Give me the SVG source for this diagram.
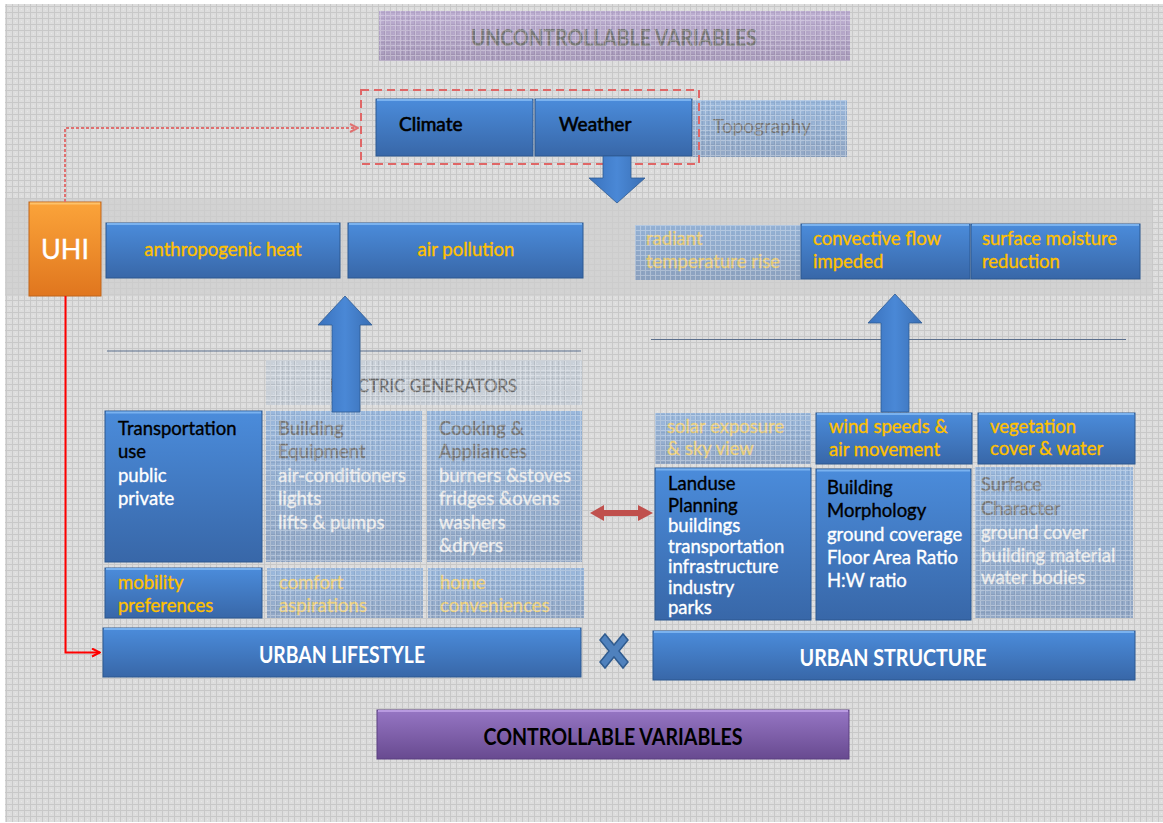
<svg xmlns="http://www.w3.org/2000/svg" width="1163" height="823" viewBox="0 0 1163 823">
  <defs>
    <pattern id="bgGrid" width="6" height="6" patternUnits="userSpaceOnUse">
      <rect width="6" height="6" fill="#dddddd"/>
      <path d="M0 0.5H6M0.5 0V6" stroke="#c8c8c8" stroke-width="1"/>
      <rect x="3" y="3" width="1" height="1" fill="#e8e8e8"/>
    </pattern>
    <pattern id="fadeGrid" width="5" height="5" patternUnits="userSpaceOnUse">
      <path d="M0 0.5H5M0.5 0V5" stroke="#ffffff" stroke-width="1" opacity="0.3"/>
    </pattern>
    <linearGradient id="gBlue" x1="0" y1="0" x2="0" y2="1">
      <stop offset="0" stop-color="#4b8cdb"/>
      <stop offset="1" stop-color="#3867a8"/>
    </linearGradient>
    <linearGradient id="gOrange" x1="0" y1="0" x2="0" y2="1">
      <stop offset="0" stop-color="#fba43a"/>
      <stop offset="1" stop-color="#e0761e"/>
    </linearGradient>
    <linearGradient id="gPurple" x1="0" y1="0" x2="0" y2="1">
      <stop offset="0" stop-color="#9676c4"/>
      <stop offset="1" stop-color="#684a90"/>
    </linearGradient>
    <linearGradient id="gArrow" x1="0" y1="0" x2="1" y2="0">
      <stop offset="0" stop-color="#3a72bd"/>
      <stop offset="0.5" stop-color="#4a88d6"/>
      <stop offset="1" stop-color="#3a6fb4"/>
    </linearGradient>
    <marker id="arrSolid" viewBox="0 0 10 10" refX="9" refY="5" markerWidth="5" markerHeight="5" orient="auto" markerUnits="strokeWidth">
      <path d="M1 1L9 5L1 9" fill="none" stroke="#ff0000" stroke-width="2"/>
    </marker>
    <marker id="arrDash" viewBox="0 0 10 10" refX="9" refY="5" markerWidth="5" markerHeight="5" orient="auto" markerUnits="strokeWidth">
      <path d="M1 1L9 5L1 9" fill="none" stroke="#e07070" stroke-width="2"/>
    </marker>
    <style>
      text { font-family: Lato, "Open Sans", "Liberation Sans", sans-serif; }
      .blue { fill: url(#gBlue); stroke: #2d5890; stroke-width: 1; }
      .hi { stroke: #7ab2ef; stroke-width: 2; }
      .fade { opacity: 0.45; }
      .y { fill: #ffc000; stroke: #ffc000; stroke-width: 0.35; font-size: 18.5px; }
      .w { fill: #ffffff; stroke: #ffffff; stroke-width: 0.35; font-size: 18.5px; }
      .k { fill: #000000; stroke: #000000; stroke-width: 0.35; font-size: 18.5px; }
      .cap { fill: #ffffff; font-size: 22px; font-weight: 700; }
      .mid { text-anchor: middle; }
    </style>
  </defs>

  <!-- page background -->
  <rect width="1163" height="823" fill="#ffffff"/>
  <rect x="5" y="4" width="1158" height="818" fill="url(#bgGrid)"/>

  <!-- effects band -->
  <rect x="5" y="199" width="1147" height="97" fill="#cdcdcd" opacity="0.72"/>

  <!-- uncontrollable variables header -->
  <g id="uncontrollable">
    <g opacity="0.45">
      <rect x="379" y="11" width="471" height="50" fill="url(#gPurple)"/>
      <text x="614" y="46" class="mid" font-size="22" font-weight="700" fill="#000" textLength="286" lengthAdjust="spacingAndGlyphs">UNCONTROLLABLE VARIABLES</text>
    </g>
    <rect x="379" y="11" width="471" height="50" fill="url(#fadeGrid)"/>
  </g>

  <!-- climate group -->
  <g id="climate">
    <rect x="376" y="99" width="157" height="57" class="blue"/>
    <line x1="377" y1="100" x2="532" y2="100" class="hi"/>
    <text x="399" y="131" font-size="19" fill="#000" stroke="#000" stroke-width="0.6">Climate</text>
  </g>
  <g id="weather">
    <rect x="535" y="99" width="157" height="57" class="blue"/>
    <line x1="536" y1="100" x2="691" y2="100" class="hi"/>
    <text x="559" y="131" font-size="19" fill="#000" stroke="#000" stroke-width="0.6">Weather</text>
  </g>
  <g id="topography">
    <g class="fade">
      <rect x="693" y="100" width="154" height="57" fill="url(#gBlue)"/>
      <text x="713" y="133" font-size="19" fill="#000">Topography</text>
    </g>
    <rect x="693" y="100" width="154" height="57" fill="url(#fadeGrid)"/>
  </g>
  <rect id="climate-frame" x="361" y="90" width="338" height="74" fill="none" stroke="#e06666" stroke-width="2" stroke-dasharray="8 5"/>

  <!-- UHI -->
  <g id="uhi">
    <rect x="29" y="202" width="72" height="94" fill="url(#gOrange)" stroke="#c0651a" stroke-width="1"/>
    <line x1="30" y1="203.5" x2="100" y2="203.5" stroke="#fdc26a" stroke-width="2"/>
    <text x="65" y="259" class="mid" font-size="27" fill="#ffffff" stroke="#ffffff" stroke-width="0.4">UHI</text>
  </g>

  <!-- effects -->
  <g id="anthropogenic-heat">
    <rect x="106" y="223" width="234" height="55" class="blue"/>
    <line x1="107" y1="224" x2="339" y2="224" class="hi"/>
    <text x="223" y="256" class="y mid">anthropogenic heat</text>
  </g>
  <g id="air-pollution">
    <rect x="348" y="223" width="235" height="55" class="blue"/>
    <line x1="349" y1="224" x2="582" y2="224" class="hi"/>
    <text x="466" y="256" class="y mid">air pollution</text>
  </g>
  <g id="radiant-temperature">
    <g class="fade">
      <rect x="635" y="225" width="166" height="55" fill="url(#gBlue)"/>
      <text x="646" y="245" class="y">radiant</text>
      <text x="646" y="268" class="y">temperature rise</text>
    </g>
    <rect x="635" y="225" width="166" height="55" fill="url(#fadeGrid)"/>
  </g>
  <g id="convective-flow">
    <rect x="801" y="224" width="169" height="55" class="blue"/>
    <line x1="802" y1="225" x2="969" y2="225" class="hi"/>
    <text x="813" y="245" class="y">convective flow</text>
    <text x="813" y="268" class="y">impeded</text>
  </g>
  <g id="surface-moisture">
    <rect x="971" y="224" width="169" height="55" class="blue"/>
    <line x1="972" y1="225" x2="1139" y2="225" class="hi"/>
    <text x="982" y="245" class="y">surface moisture</text>
    <text x="982" y="268" class="y">reduction</text>
  </g>

  <!-- divider lines -->
  <line x1="107" y1="351" x2="581" y2="351" stroke="#5b6f8c" stroke-width="1"/>
  <line x1="651" y1="339.5" x2="1126" y2="339.5" stroke="#5b6f8c" stroke-width="1"/>

  <!-- electric generators -->
  <g id="electric-generators">
    <rect x="266" y="360" width="316" height="45" fill="#3a70b8" opacity="0.12"/>
    <text x="330" y="392" font-size="18" fill="#666666" stroke="#666666" stroke-width="0.3" textLength="187" lengthAdjust="spacingAndGlyphs">ELECTRIC GENERATORS</text>
    <rect x="266" y="360" width="316" height="45" fill="url(#fadeGrid)"/>
  </g>

  <!-- urban lifestyle factors -->
  <g id="transportation">
    <rect x="105" y="411" width="157" height="151" class="blue"/>
    <line x1="106" y1="412.5" x2="261" y2="412.5" class="hi"/>
    <text x="118" y="435" class="k">Transportation</text>
    <text x="118" y="458" class="k">use</text>
    <text x="118" y="482" class="w">public</text>
    <text x="118" y="505" class="w">private</text>
  </g>
  <g id="building-equipment">
    <g class="fade">
      <rect x="266" y="411" width="156" height="151" fill="url(#gBlue)"/>
      <text x="278" y="435" class="k">Building</text>
      <text x="278" y="458" class="k">Equipment</text>
      <text x="278" y="482" class="w">air-conditioners</text>
      <text x="278" y="505" class="w">lights</text>
      <text x="278" y="529" class="w">lifts &amp; pumps</text>
    </g>
    <rect x="266" y="411" width="156" height="151" fill="url(#fadeGrid)"/>
  </g>
  <g id="cooking-appliances">
    <g class="fade">
      <rect x="427" y="411" width="155" height="151" fill="url(#gBlue)"/>
      <text x="439" y="435" class="k">Cooking &amp;</text>
      <text x="439" y="458" class="k">Appliances</text>
      <text x="439" y="482" class="w">burners &amp;stoves</text>
      <text x="439" y="505" class="w">fridges &amp;ovens</text>
      <text x="439" y="529" class="w">washers</text>
      <text x="439" y="552" class="w">&amp;dryers</text>
    </g>
    <rect x="427" y="411" width="155" height="151" fill="url(#fadeGrid)"/>
  </g>
  <g id="mobility-preferences">
    <rect x="105" y="568" width="157" height="50" class="blue"/>
    <line x1="106" y1="569" x2="261" y2="569" class="hi"/>
    <text x="118" y="589" class="y">mobility</text>
    <text x="118" y="612" class="y">preferences</text>
  </g>
  <g id="comfort-aspirations">
    <g class="fade">
      <rect x="267" y="568" width="156" height="50" fill="url(#gBlue)"/>
      <text x="279" y="589" class="y">comfort</text>
      <text x="279" y="612" class="y">aspirations</text>
    </g>
    <rect x="267" y="568" width="156" height="50" fill="url(#fadeGrid)"/>
  </g>
  <g id="home-conveniences">
    <g class="fade">
      <rect x="428" y="568" width="156" height="50" fill="url(#gBlue)"/>
      <text x="440" y="589" class="y">home</text>
      <text x="440" y="612" class="y">conveniences</text>
    </g>
    <rect x="428" y="568" width="156" height="50" fill="url(#fadeGrid)"/>
  </g>

  <!-- urban structure factors -->
  <g id="solar-exposure">
    <g class="fade">
      <rect x="655" y="413" width="156" height="51" fill="url(#gBlue)"/>
      <text x="667" y="433" class="y">solar exposure</text>
      <text x="667" y="455" class="y">&amp; sky view</text>
    </g>
    <rect x="655" y="413" width="156" height="51" fill="url(#fadeGrid)"/>
  </g>
  <g id="wind-speeds">
    <rect x="816" y="413" width="156" height="51" class="blue"/>
    <line x1="817" y1="414" x2="971" y2="414" class="hi"/>
    <text x="829" y="433" class="y">wind speeds &amp;</text>
    <text x="829" y="456" class="y">air movement</text>
  </g>
  <g id="vegetation">
    <rect x="978" y="413" width="157" height="51" class="blue"/>
    <line x1="979" y1="414" x2="1134" y2="414" class="hi"/>
    <text x="990" y="433" class="y">vegetation</text>
    <text x="990" y="455" class="y">cover &amp; water</text>
  </g>
  <g id="landuse-planning">
    <rect x="655" y="468" width="156" height="152" class="blue"/>
    <line x1="656" y1="469.5" x2="810" y2="469.5" class="hi"/>
    <text x="668" y="490" class="k">Landuse</text>
    <text x="668" y="512" class="k">Planning</text>
    <text x="668" y="532" class="w">buildings</text>
    <text x="668" y="553" class="w">transportation</text>
    <text x="668" y="573" class="w">infrastructure</text>
    <text x="668" y="594" class="w">industry</text>
    <text x="668" y="614" class="w">parks</text>
  </g>
  <g id="building-morphology">
    <rect x="816" y="469" width="155" height="151" class="blue"/>
    <line x1="817" y1="470.5" x2="970" y2="470.5" class="hi"/>
    <text x="827" y="494" class="k">Building</text>
    <text x="827" y="517" class="k">Morphology</text>
    <text x="827" y="541" class="w">ground coverage</text>
    <text x="827" y="564" class="w">Floor Area Ratio</text>
    <text x="827" y="587" class="w">H:W ratio</text>
  </g>
  <g id="surface-character">
    <g class="fade">
      <rect x="975" y="467" width="158" height="151" fill="url(#gBlue)"/>
      <text x="981" y="491" class="k">Surface</text>
      <text x="981" y="515" class="k">Character</text>
      <text x="981" y="539" class="w">ground cover</text>
      <text x="981" y="562" class="w">building material</text>
      <text x="981" y="584" class="w">water bodies</text>
    </g>
    <rect x="975" y="467" width="158" height="151" fill="url(#fadeGrid)"/>
  </g>

  <!-- bases -->
  <g id="urban-lifestyle">
    <rect x="103" y="628" width="478" height="49" class="blue"/>
    <line x1="104" y1="629" x2="580" y2="629" class="hi"/>
    <text x="342" y="663" class="cap mid" textLength="166" lengthAdjust="spacingAndGlyphs">URBAN LIFESTYLE</text>
  </g>
  <g id="urban-structure">
    <rect x="653" y="631" width="482" height="49" class="blue"/>
    <line x1="654" y1="632" x2="1134" y2="632" class="hi"/>
    <text x="893" y="666" class="cap mid" textLength="187" lengthAdjust="spacingAndGlyphs">URBAN STRUCTURE</text>
  </g>
  <g id="controllable">
    <rect x="377" y="710" width="472" height="49" fill="url(#gPurple)" stroke="#5a3f80" stroke-width="1"/>
    <line x1="378" y1="711" x2="848" y2="711" stroke="#b89ae0" stroke-width="2"/>
    <text x="613" y="745" class="mid" font-size="22" font-weight="700" fill="#000" textLength="259" lengthAdjust="spacingAndGlyphs">CONTROLLABLE VARIABLES</text>
  </g>

  <!-- connectors -->
  <g id="connectors">
    <!-- weather drives effects -->
    <polygon points="603,156 631,156 631,178 645,178 617,203 589,178 603,178" fill="url(#gArrow)" stroke="#2f5b92" stroke-width="0.8"/>
    <!-- lifestyle feeds anthropogenic effects -->
    <polygon points="332,412 332,325 318,325 345,296 372,325 360,325 360,412" fill="url(#gArrow)" stroke="#2f5b92" stroke-width="0.8"/>
    <!-- structure feeds physical effects -->
    <polygon points="881,412 881,323 868,323 895,294 922,323 909,323 909,412" fill="url(#gArrow)" stroke="#2f5b92" stroke-width="0.8"/>
    <!-- lifestyle / structure interplay -->
    <polygon points="590,513 604,505 604,510 638,510 638,505 653,513 638,521 638,516 604,516 604,521" fill="#c0504d"/>
    <!-- combination mark -->
    <polygon transform="translate(614,651)" points="-9,-17 0,-6 9,-17 14,-11 5,0 14,11 9,17 0,6 -9,17 -14,11 -5,0 -14,-11" fill="#4f81bd" stroke="#2f5b8f" stroke-width="1.5"/>
    <!-- UHI feedback to climate -->
    <path d="M65 202V128H358" fill="none" stroke="#e07070" stroke-width="2" stroke-dasharray="3 2" marker-end="url(#arrDash)"/>
    <!-- UHI feedback to lifestyle -->
    <path d="M65.5 296V652.5H100" fill="none" stroke="#ff0000" stroke-width="2" marker-end="url(#arrSolid)"/>
  </g>
</svg>
